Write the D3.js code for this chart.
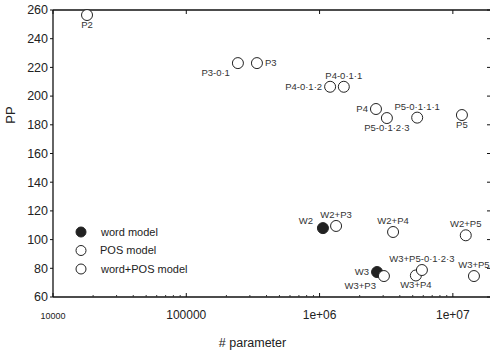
<!DOCTYPE html>
<html lang="en">
<head>
  <meta charset="UTF-8">
  <script src="https://cdnjs.cloudflare.com/ajax/libs/d3/7.8.5/d3.min.js"></script>
  <title>PP vs # parameter</title>
  <style>
    body { margin: 0; background: #fff; }
    svg { font-family: "Liberation Sans", Arial, sans-serif; }
  </style>
</head>
<body>
  <div id="chart"></div>
  <script>
    // model names, # parameters, perplexity, model type
    const names = ['P2', 'P3-0·1', 'P3', 'P4-0·1·2', 'P4-0·1·1', 'P4', 'P5-0·1·2·3', 'P5-0·1·1·1', 'P5',
      'W2', 'W2+P3', 'W2+P4', 'W2+P5', 'W3', 'W3+P3', 'W3+P4', 'W3+P5-0·1·2·3', 'W3+P5'];
    const params = [18000, 244000, 339000, 1.2e6, 1.52e6, 2.65e6, 3.2e6, 5.4e6, 1.17e7,
      1.06e6, 1.33e6, 3.56e6, 1.25e7, 2.7e6, 3.04e6, 5.28e6, 5.86e6, 1.44e7];
    const pp = [256.5, 223, 223, 206.5, 206.5, 191, 184.7, 185, 186.8,
      108, 109.5, 105.3, 103, 77.4, 74.6, 75, 78.8, 74.6];
    const kinds = ['pos', 'pos', 'pos', 'pos', 'pos', 'pos', 'pos', 'pos', 'pos',
      'word', 'mix', 'mix', 'mix', 'word', 'mix', 'mix', 'mix', 'mix'];
    // where each label sits relative to its point
    const labelPos = ['below', 'belowleft', 'right', 'left', 'above', 'left', 'below', 'above', 'below',
      'aboveleft', 'above', 'above', 'above', 'left', 'belowleft', 'below', 'above', 'above'];
    const xTicks = [10000, 100000, 1e6, 1e7];
    const xTickLabels = ['10000', '100000', '1e+06', '1e+07'];
    const yTicks = [60, 80, 100, 120, 140, 160, 180, 200, 220, 240, 260];
    const legendLabels = ['word model', 'POS model', 'word+POS model'];
    const legendKinds = ['word', 'pos', 'mix'];

    const W = 491, H = 354;
    const margin = { top: 10, right: 1, bottom: 57, left: 53 };
    const width = W - margin.left - margin.right;
    const height = H - margin.top - margin.bottom;

    const svg = d3.select('#chart').append('svg')
      .attr('width', W).attr('height', H)
      .append('g')
      .attr('transform', `translate(${margin.left}, ${margin.top})`);

    const x = d3.scaleLog().domain([1e4, 1.9e7]).range([0, width]);
    const y = d3.scaleLinear().domain([60, 260]).range([height, 0]);

    // minor log ticks
    const minor = [];
    for (let e = 4; e <= 7; e++) for (let m = 2; m <= 9; m++) if (m * 10 ** e < 1.9e7) minor.push(m * 10 ** e);

    // bottom axis, ticks pointing in
    const bottomAxis = svg.append('g').attr('transform', `translate(0, ${height})`);
    bottomAxis.append('line').attr('x1', 0).attr('x2', width).attr('stroke', '#111').attr('stroke-width', 1.3);
    bottomAxis.selectAll('line.minor').data(minor).join('line').attr('class', 'minor')
      .attr('x1', d => x(d)).attr('x2', d => x(d)).attr('y1', 0).attr('y2', -2)
      .attr('stroke', '#333');
    bottomAxis.selectAll('line.major').data(xTicks).join('line').attr('class', 'major')
      .attr('x1', d => x(d)).attr('x2', d => x(d)).attr('y1', 0).attr('y2', -4)
      .attr('stroke', '#111');
    bottomAxis.selectAll('text').data(xTicks).join('text')
      .attr('x', d => x(d)).attr('y', 22)
      .attr('text-anchor', 'middle')
      .style('font-size', (d, i) => i === 0 ? '9px' : '12px')
      .attr('fill', '#222')
      .text((d, i) => xTickLabels[i]);

    // top frame with ticks
    const topAxis = svg.append('g');
    topAxis.append('line').attr('x1', 0).attr('x2', width).attr('stroke', '#111').attr('stroke-width', 1.3);
    topAxis.selectAll('line.major').data(xTicks).join('line').attr('class', 'major')
      .attr('x1', d => x(d)).attr('x2', d => x(d)).attr('y1', 0).attr('y2', 4)
      .attr('stroke', '#111');

    // left axis, ticks pointing out
    const leftAxis = svg.append('g');
    leftAxis.append('line').attr('y1', 0).attr('y2', height).attr('stroke', '#111').attr('stroke-width', 1.3);
    leftAxis.selectAll('line.t').data(yTicks).join('line').attr('class', 't')
      .attr('x1', -3).attr('x2', 0).attr('y1', d => y(d)).attr('y2', d => y(d))
      .attr('stroke', '#111');
    leftAxis.selectAll('text').data(yTicks).join('text')
      .attr('x', -5).attr('y', d => y(d)).attr('dy', '0.35em')
      .attr('text-anchor', 'end')
      .style('font-size', '12.5px')
      .attr('fill', '#222')
      .text(d => d);

    // right side ticks
    svg.append('g').selectAll('line').data(yTicks).join('line')
      .attr('x1', width - 3).attr('x2', width).attr('y1', d => y(d)).attr('y2', d => y(d))
      .attr('stroke', '#111');

    // axis titles
    svg.append('text')
      .attr('x', width / 2 - 19).attr('y', height + 50)
      .attr('text-anchor', 'middle')
      .style('font-size', '12.5px').attr('fill', '#222')
      .text('# parameter');
    svg.append('text')
      .attr('transform', `translate(${-38}, 105) rotate(-90)`)
      .attr('text-anchor', 'middle')
      .style('font-size', '13px').attr('fill', '#222')
      .text('PP');

    // points
    const pts = names.map((n, i) => ({ name: n, p: params[i], v: pp[i], kind: kinds[i], pos: labelPos[i] }));
    const fillFor = k => k === 'word' ? '#222' : '#fff';
    svg.selectAll('circle.pt').data(pts).join('circle').attr('class', 'pt')
      .attr('cx', d => x(d.p)).attr('cy', d => y(d.v)).attr('r', 5.5)
      .attr('fill', d => fillFor(d.kind))
      .attr('stroke', '#222').attr('stroke-width', 1);

    const off = {
      below: [0, 13, 'middle'], above: [0, -8, 'middle'], left: [-8, 3, 'end'], right: [8, 3, 'start'],
      belowleft: [-8, 13, 'end'], aboveleft: [-10, -4, 'end']
    };
    svg.selectAll('text.lbl').data(pts).join('text').attr('class', 'lbl')
      .attr('x', d => x(d.p) + off[d.pos][0])
      .attr('y', d => y(d.v) + off[d.pos][1])
      .attr('text-anchor', d => off[d.pos][2])
      .style('font-size', '9.5px').attr('fill', '#333')
      .text(d => d.name);

    // legend
    const lg = svg.append('g').attr('transform', 'translate(28, 222)');
    legendLabels.forEach((l, i) => {
      lg.append('circle').attr('cx', 0).attr('cy', i * 18.5).attr('r', 5)
        .attr('fill', fillFor(legendKinds[i])).attr('stroke', '#222');
      lg.append('text').attr('x', i === 1 ? 19 : 20).attr('y', i * 18.5).attr('dy', '0.35em')
        .style('font-size', '11px').attr('fill', '#222').text(l);
    });
  </script>
</body>
</html>
